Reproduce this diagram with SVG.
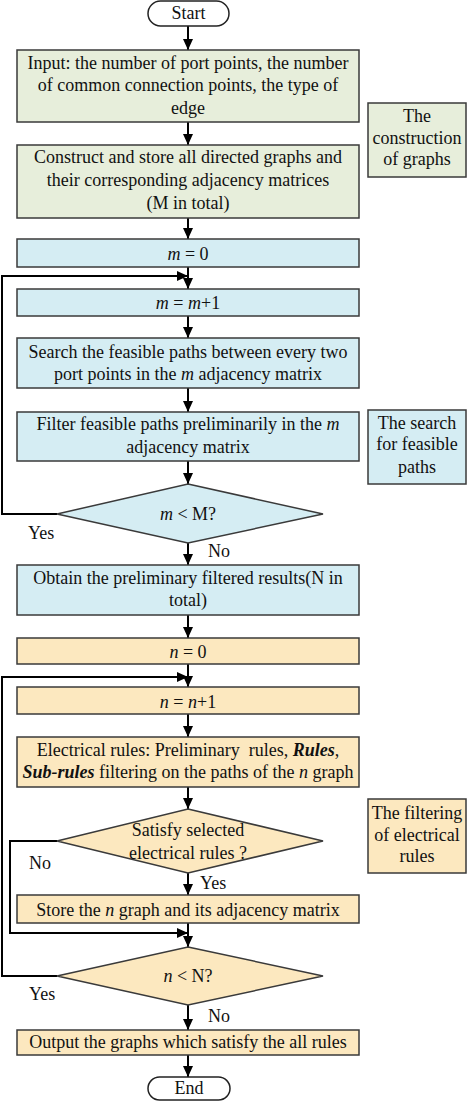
<svg xmlns="http://www.w3.org/2000/svg" width="470" height="1105" viewBox="0 0 470 1105" font-family="'Liberation Serif', 'DejaVu Serif', serif">
<style>
text{font-family:'Liberation Serif','DejaVu Serif',serif;font-size:18px;fill:#111;text-anchor:middle}
.g{fill:#e7eedb;stroke:#3a3a3a;stroke-width:1.5}
.b{fill:#d5edf3;stroke:#3a3a3a;stroke-width:1.5}
.y{fill:#fce8bf;stroke:#3a3a3a;stroke-width:1.5}
.t{fill:#fff;stroke:#222;stroke-width:1.5}
.c{fill:none;stroke:#000;stroke-width:2}
.l{text-anchor:start}
.i{font-style:italic}
.bi{font-style:italic;font-weight:bold}
.pre{white-space:pre}
</style>
<defs>
<marker id="ah" markerUnits="userSpaceOnUse" markerWidth="12" markerHeight="12" viewBox="0 0 12 12" refX="11" refY="6" orient="auto">
<path d="M0,1 L11,6 L0,11 Z" fill="#000"/>
</marker>
</defs>
<g id="connectors">
<path class="c" d="M188,26 V50" marker-end="url(#ah)"/>
<path class="c" d="M188,122 V145" marker-end="url(#ah)"/>
<path class="c" d="M188,218 V239" marker-end="url(#ah)"/>
<path class="c" d="M188,267 V289" marker-end="url(#ah)"/>
<path class="c" d="M57,514 H2 V276 H188" marker-end="url(#ah)"/>
<path class="c" d="M188,316 V338" marker-end="url(#ah)"/>
<path class="c" d="M188,388 V412" marker-end="url(#ah)"/>
<path class="c" d="M188,461 V484" marker-end="url(#ah)"/>
<path class="c" d="M188,543 V565" marker-end="url(#ah)"/>
<path class="c" d="M188,615 V638" marker-end="url(#ah)"/>
<path class="c" d="M188,664 V687" marker-end="url(#ah)"/>
<path class="c" d="M57,976 H2 V677 H188" marker-end="url(#ah)"/>
<path class="c" d="M188,714 V737" marker-end="url(#ah)"/>
<path class="c" d="M188,787 V809" marker-end="url(#ah)"/>
<path class="c" d="M188,873 V895" marker-end="url(#ah)"/>
<path class="c" d="M57,841 H10 V933 H188" marker-end="url(#ah)"/>
<path class="c" d="M188,923 V947" marker-end="url(#ah)"/>
<path class="c" d="M188,1005 V1030" marker-end="url(#ah)"/>
<path class="c" d="M188,1055 V1077" marker-end="url(#ah)"/>
</g>
<g id="start"><rect class="t" x="148" y="1" width="81" height="25" rx="12.5"/><text x="188.5" y="19">Start</text></g>
<g id="input"><rect class="g" x="17" y="50" width="342" height="72"/>
<text x="188" y="69">Input: the number of port points, the number</text>
<text x="188" y="91">of common connection points, the type of</text>
<text x="188" y="114">edge</text></g>
<g id="construct"><rect class="g" x="17" y="145" width="342" height="73"/>
<text x="188" y="163">Construct and store all directed graphs and</text>
<text x="188" y="186">their corresponding adjacency matrices</text>
<text x="188" y="209">(M in total)</text></g>
<g id="side1"><rect class="g" x="368" y="103" width="98" height="74"/>
<text x="417" y="122">The</text><text x="417" y="144">construction</text><text x="417" y="165">of graphs</text></g>
<g id="m0"><rect class="b" x="17" y="239" width="342" height="28"/><text x="188" y="260"><tspan class="i">m</tspan> = 0</text></g>
<g id="m1"><rect class="b" x="17" y="289" width="342" height="27"/><text x="188" y="309"><tspan class="i">m</tspan> = <tspan class="i">m</tspan>+1</text></g>
<g id="search"><rect class="b" x="17" y="338" width="342" height="50"/>
<text x="188" y="358">Search the feasible paths between every two</text>
<text x="188" y="380">port points in the <tspan class="i">m</tspan> adjacency matrix</text></g>
<g id="filter"><rect class="b" x="17" y="412" width="342" height="49"/>
<text x="188" y="430">Filter feasible paths preliminarily in the <tspan class="i">m</tspan></text>
<text x="188" y="453">adjacency matrix</text></g>
<g id="side2"><rect class="b" x="368" y="410" width="98" height="74"/>
<text x="417" y="429">The search</text><text x="417" y="450">for feasible</text><text x="417" y="473">paths</text></g>
<g id="dm"><polygon class="b" points="188,484 323,514 188,543 57,514"/><text x="188" y="520"><tspan class="i">m</tspan> &lt; M?</text></g>
<g id="lbl1"><text class="l" x="28" y="539">Yes</text><text class="l" x="208" y="557">No</text></g>
<g id="obtain"><rect class="b" x="17" y="565" width="342" height="50"/>
<text x="188" y="584">Obtain the preliminary filtered results(N in</text>
<text x="188" y="606">total)</text></g>
<g id="n0"><rect class="y" x="17" y="638" width="342" height="26"/><text x="188" y="658"><tspan class="i">n</tspan> = 0</text></g>
<g id="n1"><rect class="y" x="17" y="687" width="342" height="27"/><text x="188" y="708"><tspan class="i">n</tspan> = <tspan class="i">n</tspan>+1</text></g>
<g id="elec"><rect class="y" x="17" y="737" width="342" height="50"/>
<text class="pre" x="188" y="756">Electrical rules: Preliminary  rules, <tspan class="bi">Rules</tspan>,</text>
<text x="188" y="778"><tspan class="bi">Sub-rules</tspan> filtering on the paths of the <tspan class="i">n</tspan> graph</text></g>
<g id="ds"><polygon class="y" points="188,809 323,841 188,873 57,841"/>
<text x="188" y="836">Satisfy selected</text><text x="188" y="859">electrical rules ?</text></g>
<g id="side3"><rect class="y" x="368" y="799" width="98" height="74"/>
<text x="417" y="819">The filtering</text><text x="417" y="841">of electrical</text><text x="417" y="862">rules</text></g>
<g id="lbl2"><text class="l" x="29" y="869">No</text><text class="l" x="200" y="889">Yes</text></g>
<g id="store"><rect class="y" x="17" y="895" width="342" height="28"/><text x="188" y="916">Store the <tspan class="i">n</tspan> graph and its adjacency matrix</text></g>
<g id="dn"><polygon class="y" points="188,947 323,976 188,1005 57,976"/><text x="188" y="982"><tspan class="i">n</tspan> &lt; N?</text></g>
<g id="lbl3"><text class="l" x="29" y="1000">Yes</text><text class="l" x="208" y="1022">No</text></g>
<g id="output"><rect class="y" x="17" y="1030" width="342" height="25"/><text x="188" y="1048">Output the graphs which satisfy the all rules</text></g>
<g id="end"><rect class="t" x="148" y="1077" width="82" height="23" rx="11.5"/><text x="189" y="1094">End</text></g>
</svg>
